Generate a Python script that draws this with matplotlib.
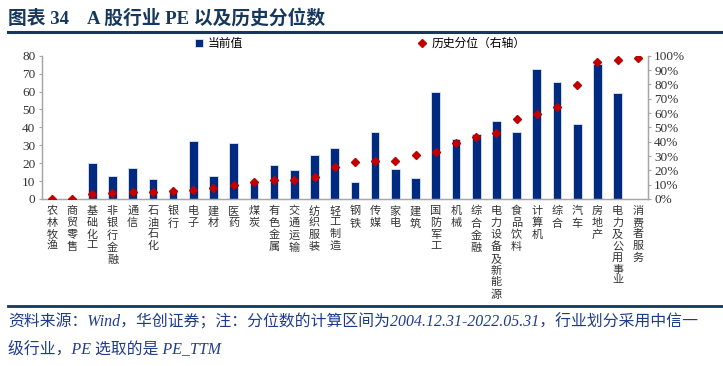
import matplotlib
import numpy as np

matplotlib.use("Agg")

from matplotlib import pyplot as plt  # noqa: E402
from matplotlib.lines import Line2D  # noqa: E402

plt.rcParams["font.family"] = ["Liberation Serif", "Noto Sans CJK SC"]

industries = [
    "农林牧渔", "商贸零售", "基础化工", "非银行金融", "通信", "石油石化", "银行",
    "电子", "建材", "医药", "煤炭", "有色金属", "交通运输", "纺织服装", "轻工制造",
    "钢铁", "传媒", "家电", "建筑", "国防军工", "机械", "综合金融",
    "电力设备及新能源", "食品饮料", "计算机", "综合", "汽车", "房地产",
    "电力及公用事业", "消费者服务",
]
# current PE (negative PE not shown -> nan)
pe_now = [
    np.nan, np.nan, 20.1, 13.0, 17.5, 11.0, 5.0, 32.4, 12.7, 31.1, 9.7, 19.2,
    16.4, 24.4, 28.3, 9.3, 37.4, 16.6, 11.6, 59.6, 33.3, 36.5, 43.7, 37.2,
    72.8, 65.2, 42.1, 75.2, 59.0, np.nan,
]
# historical percentile, %
pe_pct = [
    0.0, 0.0, 3.7, 4.2, 5.1, 5.0, 5.6, 6.5, 7.7, 9.7, 12.1, 13.1, 13.1, 15.2,
    22.4, 25.6, 26.6, 26.8, 30.8, 33.1, 38.9, 43.1, 46.1, 55.7, 59.6, 64.3,
    79.7, 95.3, 96.7, 98.4,
]

navy = "#002A7F"
red = "#C00000"
title_blue = "#17375E"
grey = "#A6A6A6"

fig = plt.figure(figsize=(7.23, 3.66), dpi=100)
ax = fig.add_axes([0.0577, 0.4563, 0.8385, 0.3915])
ax2 = ax.twinx()

x = np.arange(len(industries))
bars = ax.bar(x, pe_now, width=0.43, color=navy, edgecolor="#DCE6F2",
              linewidth=0.6, zorder=2)
pts, = ax2.plot(x, pe_pct, linestyle="none", marker="D", markersize=4.2,
                color=red, zorder=3)

ax.set_xlim(-0.5, len(industries) - 0.5)
ax.set_ylim(0, 80)
ax.set_yticks(np.arange(0, 81, 10))
ax2.set_ylim(0, 100)
ax2.set_yticks(np.arange(0, 101, 10))
ax2.set_yticklabels([f"{v}%" for v in range(0, 101, 10)])

ax.set_xticks(x)
ax.set_xticklabels(["\n".join(n) for n in industries], fontsize=8,
                   linespacing=1.22, va="top", color="#333333")
ax.tick_params(axis="x", length=0, pad=5)
ax.tick_params(axis="y", length=2.5, width=0.8, color=grey, labelsize=9.5,
               pad=2, labelcolor="#333333")
ax2.tick_params(axis="y", length=2.5, width=0.8, color=grey, labelsize=9.5,
                pad=2, labelcolor="#333333")

for a in (ax, ax2):
    a.spines["top"].set_visible(False)
    for s in ("left", "right", "bottom"):
        a.spines[s].set_color(grey)
        a.spines[s].set_linewidth(0.9)

ax.legend([bars], ["当前值"], loc="center left",
          bbox_to_anchor=(195 / 723, 1 - 44 / 366),
          bbox_transform=fig.transFigure, frameon=False, fontsize=8.5,
          handlelength=0.7, handleheight=0.7, handletextpad=0.4,
          borderpad=0, borderaxespad=0)
ax2.legend([pts], ["历史分位（右轴）"], loc="center left",
           bbox_to_anchor=(417 / 723, 1 - 44 / 366),
           bbox_transform=fig.transFigure, frameon=False, fontsize=8.5,
           handlelength=0.9, handletextpad=0.3, numpoints=1,
           borderpad=0, borderaxespad=0)

fig.text(8 / 723, 1 - 18 / 366, "图表 34    A 股行业 PE 以及历史分位数",
         fontsize=13.5, fontweight="bold", color=title_blue, va="center")
fig.add_artist(Line2D([8 / 723, 1.0], [1 - 32 / 366] * 2,
                      transform=fig.transFigure, color=title_blue, lw=2.2))
fig.add_artist(Line2D([8 / 723, 1.0], [1 - 306 / 366] * 2,
                      transform=fig.transFigure, color=title_blue, lw=2.0))

note1 = ("资料来源：Wind，华创证券；注：分位数的计算区间为2004.12.31-2022.05.31，"
         "行业划分采用中信一")
note2 = "级行业，PE 选取的是 PE_TTM"
fig.text(8 / 723, 1 - 322 / 366, note1, fontsize=11.4, style="italic",
         color="#1F3B8C", va="center")
fig.text(8 / 723, 1 - 349 / 366, note2, fontsize=11.4, style="italic",
         color="#1F3B8C", va="center")

fig.savefig("out.png", dpi=100)
